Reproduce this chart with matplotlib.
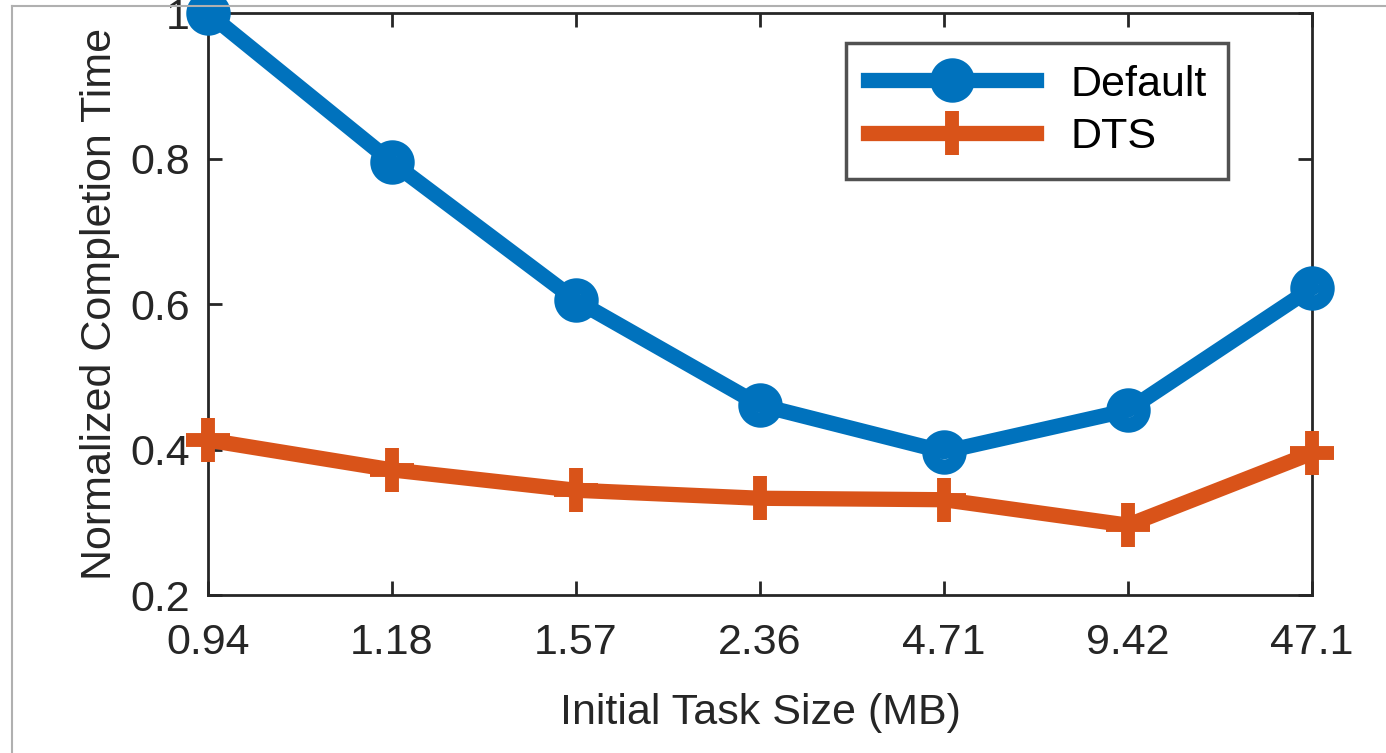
import matplotlib
matplotlib.use("Agg")
import matplotlib.pyplot as plt
from matplotlib.lines import Line2D

categories = ["0.94", "1.18", "1.57", "2.36", "4.71", "9.42", "47.1"]
default_vals = [1.0, 0.795, 0.605, 0.461, 0.397, 0.454, 0.622]
dts_vals = [0.413, 0.372, 0.344, 0.333, 0.331, 0.296, 0.395]
yticks = [0.2, 0.4, 0.6, 0.8, 1.0]
ytick_labels = ["0.2", "0.4", "0.6", "0.8", "1"]

plt.rcParams['font.family'] = ['Liberation Sans', 'DejaVu Sans']

fig = plt.figure(figsize=(13.86, 7.53), dpi=100)
ax = fig.add_axes([0.150, 0.2098, 0.7966, 0.7729])

x = list(range(len(categories)))
blue = "#0072BD"
orange = "#D95319"
ax.plot(x, default_vals, color=blue, lw=11, marker='o', ms=21, mew=11,
        mfc='none', mec=blue, label="Default", clip_on=False, zorder=3)
ax.plot(x, dts_vals, color=orange, lw=11, marker='+', ms=32, mew=10,
        mec=orange, label="DTS", clip_on=False, zorder=3)

ax.set_xlim(0, len(categories) - 1)
ax.set_ylim(0.2, 1.0)
ax.set_xticks(x)
ax.set_xticklabels(categories)
ax.set_yticks(yticks)
ax.set_yticklabels(ytick_labels)
ax.tick_params(axis='x', pad=20)
ax.tick_params(axis='y', pad=13)
ax.tick_params(direction='in', length=10, width=2, labelsize=31,
               top=True, right=True, colors='#262626')
for s in ax.spines.values():
    s.set_linewidth(2)
    s.set_color('#262626')

ax.set_xlabel("Initial Task Size (MB)", fontsize=31, color='#262626', labelpad=22)
ax.set_ylabel("Normalized Completion Time", fontsize=31, color='#262626', labelpad=7)

leg = ax.legend(loc='upper right', bbox_to_anchor=(1228/1386, 1 - 43/753),
                bbox_transform=fig.transFigure, fontsize=31, handlelength=3.9,
                frameon=True, fancybox=False, borderaxespad=0, borderpad=0.5,
                labelspacing=0.3, handletextpad=0.8)
leg.get_frame().set_edgecolor('#262626')
leg.get_frame().set_linewidth(2.5)

# light screenshot border
fig.add_artist(Line2D([12/1386, 1], [1 - 6/753, 1 - 6/753], color='#b0b0b0', lw=1.5,
                      transform=fig.transFigure))
fig.add_artist(Line2D([12/1386, 12/1386], [0, 1 - 6/753], color='#b0b0b0', lw=1.5,
                      transform=fig.transFigure))

fig.savefig("out.png", dpi=100)
